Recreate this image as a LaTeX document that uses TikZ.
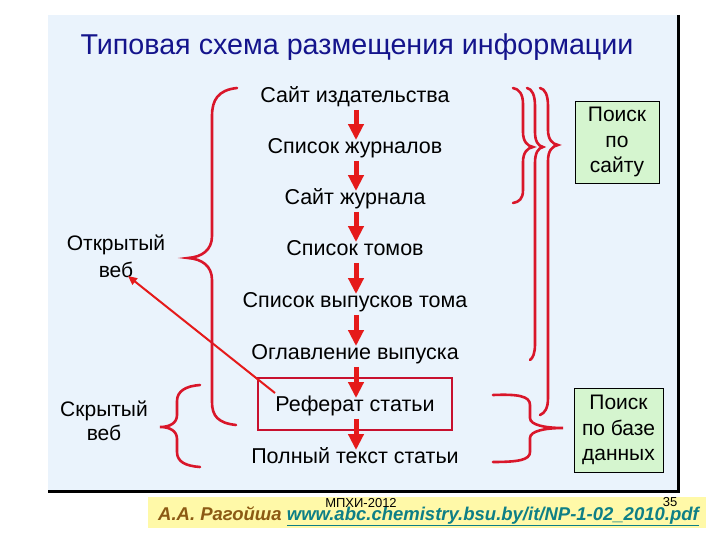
\documentclass[tikz,border=0pt]{standalone}
\usepackage{fontspec}
\setmainfont{Liberation Sans}
\usetikzlibrary{arrows.meta}
\definecolor{panelbg}{HTML}{EAF3FC}
\definecolor{titleblue}{HTML}{14148C}
\definecolor{arrowred}{HTML}{E51A1A}
\definecolor{bracered}{HTML}{D9162A}
\definecolor{boxred}{HTML}{C8102E}
\definecolor{greenfill}{HTML}{D5F5CF}
\definecolor{footyellow}{HTML}{FFF9A8}
\definecolor{footbrown}{HTML}{8C5A14}
\definecolor{footteal}{HTML}{0E7F86}
\begin{document}
\begin{tikzpicture}[x=1pt,y=-1pt,
  item/.style={font=\fontsize{21.5}{25}\selectfont, inner sep=0pt, text height=15pt, text depth=4.5pt},
  flow/.style={draw=arrowred, line width=5pt, -{Triangle[width=15pt,length=16pt]}, shorten <=3pt, shorten >=-2pt},
  brace/.style={draw=bracered, line width=2.6pt, line cap=round},
  sidelabel/.style={font=\fontsize{21}{26}\selectfont, align=center, inner sep=0pt},
  greenbox/.style={draw=black, line width=0.8pt, fill=greenfill, align=center, inner sep=0pt,
    font=\fontsize{21}{25.5}\selectfont}]
\useasboundingbox (0,0) rectangle (720,540);
% panel
\fill[panelbg] (48,15) rectangle (677,490);
\draw[line width=3pt] (678.5,15) -- (678.5,491.5) -- (48,491.5);
% footer band
\fill[footyellow] (148,497) rectangle (706,528);
% title
\node[font=\fontsize{28.7}{32}\selectfont, text=titleblue, inner sep=0pt] (title) at (357,47) {Типовая схема размещения информации};
% items
\node[item] (i1) at (355,97) {Сайт издательства};
\node[item] (i2) at (355,148) {Список журналов};
\node[item] (i3) at (355,199) {Сайт журнала};
\node[item] (i4) at (355,250) {Список томов};
\node[item] (i5) at (355,302) {Список выпусков тома};
\node[item] (i6) at (355,354) {Оглавление выпуска};
\node[item] (i7) at (355,406) {Реферат статьи};
\node[item] (i8) at (355,458) {Полный текст статьи};
% red box
\node[draw=boxred, line width=2pt, minimum width=194pt, minimum height=52pt, inner sep=0pt] (refbox) at (355,404) {};
% flow arrows
\foreach \a/\b in {i1/i2,i2/i3,i3/i4,i4/i5,i5/i6,i6/i7,i7/i8}
  \draw[flow] ([xshift=1pt]\a.south) -- ([xshift=1pt]\b.north);
% left labels
\node[sidelabel] (open) at (116,256) {Открытый\\[1pt]веб};
\node[sidelabel] (hidden) at (104,421) {Скрытый\\[-2pt]веб};
% red arrow from abstract to open web
\coordinate (refstart) at (275,393);
\draw[draw=arrowred, line width=2pt, -{Triangle[width=8pt,length=9pt]}] (refstart) -- (128,276);
% left big brace
\draw[brace] (237,88) .. controls (218,90) and (212,100) .. (212,116) -- (212,236)
  .. controls (212,250) and (202,257) .. (188,258)
  .. controls (202,259) and (212,266) .. (212,280) -- (212,402)
  .. controls (212,416) and (218,423) .. (236,425);
% left small brace
\draw[brace] (200,385) .. controls (186,386) and (177,391) .. (177,401) -- (177,415)
  .. controls (177,423) and (170,427) .. (160,427)
  .. controls (170,427) and (177,431) .. (177,439) -- (177,452)
  .. controls (177,462) and (186,466) .. (200,467);
% right braces
\draw[brace] (513,88) .. controls (519,89) and (523,94) .. (523,104) -- (523,132)
  .. controls (523,141) and (527,146) .. (533,147)
  .. controls (527,148) and (523,153) .. (523,162) -- (523,190)
  .. controls (523,199) and (519,202) .. (513,203);
\draw[brace] (527,88) .. controls (532,89) and (535,95) .. (535,106) -- (535,132)
  .. controls (535,141) and (538,146) .. (543,147)
  .. controls (538,148) and (535,153) .. (535,163) -- (535,344)
  .. controls (535,353) and (533,358) .. (530,360);
\draw[brace] (540,88) .. controls (545,89) and (548,95) .. (548,106) -- (548,130)
  .. controls (548,139) and (552,144) .. (558,145)
  .. controls (552,146) and (548,151) .. (548,161) -- (548,398)
  .. controls (548,408) and (545,413) .. (540,415);
\draw[brace] (493,395) .. controls (518,394) and (530,396) .. (530,405) -- (530,418)
  .. controls (530,425) and (545,428) .. (563,428)
  .. controls (545,428) and (530,431) .. (530,438) -- (530,452)
  .. controls (530,460) and (518,462) .. (493,462);
% green boxes
\node[greenbox, minimum width=84pt, minimum height=82pt] (site) at (617,142) {Поиск\\по\\сайту};
\node[greenbox, minimum width=89pt, minimum height=84pt] (db) at (618.5,430) {Поиск\\по базе\\данных};
% footer
\node[anchor=base west, inner sep=0pt, font=\fontsize{18.5}{22}\selectfont\bfseries\itshape] (foot) at (158,520)
  {\textcolor{footbrown}{А.А. Рагойша} \textcolor{footteal}{\underline{www.abc.chemistry.bsu.by/it/NP-1-02\_2010.pdf}}};
\node[font=\fontsize{13}{15}\selectfont, inner sep=0pt] (conf) at (361,503) {МПХИ-2012};
\node[font=\fontsize{13}{15}\selectfont, inner sep=0pt] (pg) at (670,502) {35};
\end{tikzpicture}
\end{document}
